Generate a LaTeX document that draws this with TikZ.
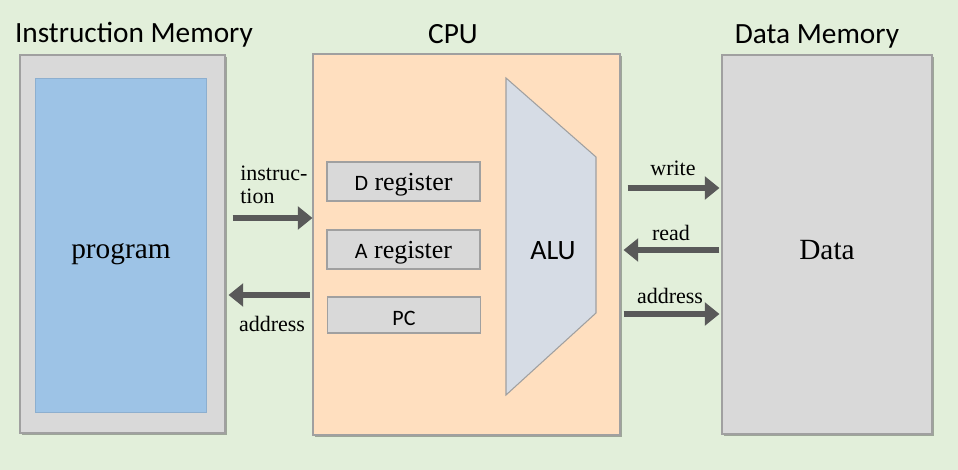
\documentclass[tikz,border=0pt]{standalone}
\usepackage{fontspec}
\setmainfont{Liberation Serif}
\newfontfamily\calfont{Carlito}
\newcommand\regsans{\calfont\fontsize{16.5}{19}\selectfont}
\usetikzlibrary{arrows.meta,shadows}
\definecolor{bgc}{HTML}{E2EFDA}
\definecolor{boxgray}{HTML}{D9D9D9}
\definecolor{edgegray}{HTML}{A0A0A0}
\definecolor{progblue}{HTML}{9DC3E6}
\definecolor{cpuorange}{HTML}{FFDFBF}
\definecolor{alublue}{HTML}{D6DCE5}
\definecolor{arrgray}{HTML}{595959}
\begin{document}
\begin{tikzpicture}[x=0.75pt,y=-0.75pt,
  shad/.style={drop shadow={shadow xshift=1.5pt,shadow yshift=-1.5pt,opacity=0.3,fill=black}},
  membox/.style={draw=edgegray,fill=boxgray,line width=0.8pt,shad,inner sep=0pt},
  regbox/.style={draw=edgegray,fill=boxgray,line width=0.8pt,inner sep=0pt,minimum width=114.75pt},
  regtext/.style={font=\fontsize{19.5}{22}\selectfont,inner sep=0pt},
  title/.style={font=\calfont\fontsize{22}{26}\selectfont,inner sep=0pt},
  lab/.style={font=\fontsize{16.5}{19}\selectfont,inner sep=0pt},
  big/.style={font=\fontsize{22}{26}\selectfont,inner sep=0pt},
  arr/.style={draw=arrgray,line width=3.8pt,-{Triangle[length=11pt,width=17pt]}}
]
\fill[bgc] (0,0) rectangle (958,470);
\useasboundingbox (0,0) rectangle (958,470);

% titles
\node[title] (timem) at (134,35) {Instruction Memory};
\node[title] (tcpu) at (453,34) {CPU};
\node[title] (tdmem) at (817,36) {Data Memory};

% instruction memory
\node[membox,minimum width=153.75pt,minimum height=283.5pt] (imem) at (122.5,244) {};
\node[draw=progblue!90!black,fill=progblue,line width=0.5pt,inner sep=0pt,minimum width=128.25pt,minimum height=250.5pt] (prog) at (120.5,245) {};
\node[big] (progtext) at (121,254) {program};

% CPU
\node[draw=edgegray,fill=cpuorange,line width=0.8pt,shad,inner sep=0pt,minimum width=230.25pt,minimum height=285.75pt] (cpu) at (466.5,244.5) {};
\node[regbox,minimum height=29.25pt] (dreg) at (403.5,181.5) {};
\node[regbox,minimum height=29.25pt] (areg) at (403.5,249.5) {};
\node[regbox,minimum height=27pt] (pc) at (404,315) {};
\node[regtext] (dtext) at (403.5,185) {{\regsans D} register};
\node[regtext] (atext) at (403.5,253) {{\regsans A} register};
\node[regtext] (pctext) at (404,318) {\regsans PC};

% ALU
\draw[draw=edgegray,fill=alublue,line width=0.8pt] (506,78) coordinate (alutl) -- (596,157) -- (596,313) -- (506,395) -- cycle;
\node[font=\calfont\fontsize{21}{25}\selectfont] (alu) at (553,251) {ALU};

% data memory
\node[membox,minimum width=157.5pt,minimum height=284.25pt] (dmem) at (827,244.5) {};
\node[big] (datatext) at (827,250) {Data};

% left connectors
\coordinate (iy) at (0,218);
\coordinate (ay) at (0,295);
\draw[arr] ([xshift=5.25pt]imem.east |- iy) -- (cpu.west |- iy);
\draw[arr] ([xshift=-2pt]cpu.west |- ay) -- ([xshift=2.25pt]imem.east |- ay);
\node[lab,anchor=west,align=left] (linstr) at (240,185) {instruc-\\[-2pt]tion};
\node[lab] (laddr1) at (272,324) {address};

% right connectors
\coordinate (wy) at (0,188);
\coordinate (ry) at (0,250);
\coordinate (ady) at (0,314);
\draw[arr] ([xshift=5.25pt]cpu.east |- wy) -- ([xshift=-1.5pt]dmem.west |- wy);
\draw[arr] ([xshift=-1.5pt]dmem.west |- ry) -- ([xshift=2.25pt]cpu.east |- ry);
\draw[arr] ([xshift=2.25pt]cpu.east |- ady) -- ([xshift=-1.5pt]dmem.west |- ady);
\node[lab] (lwrite) at (673,168) {write};
\node[lab] (lread) at (671,233) {read};
\node[lab] (laddr2) at (670,296) {address};
\end{tikzpicture}
\end{document}
